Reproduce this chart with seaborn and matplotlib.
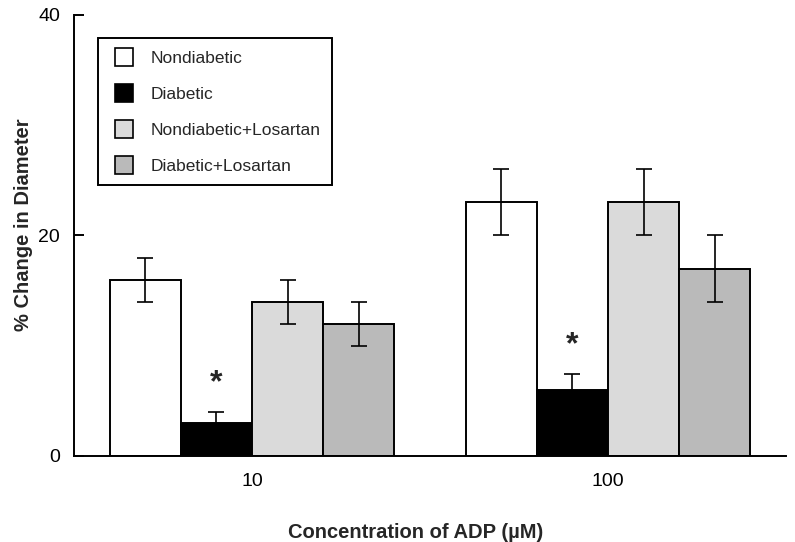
"""
bar chart: % change in diameter vs ADP concentration
"""

import pandas as pd
import seaborn as sns
import matplotlib.pyplot as plt
from matplotlib.patches import Patch, Rectangle
from matplotlib.legend_handler import HandlerPatch

# data
concentrations = ['10', '100']
groups = ['Nondiabetic', 'Diabetic', 'Nondiabetic+Losartan', 'Diabetic+Losartan']
nondiabetic = [16, 23]
diabetic = [3, 6]
nondiabetic_los = [14, 23]
diabetic_los = [12, 17]
nondiabetic_sem = [2, 3]
diabetic_sem = [1, 1.4]
nondiabetic_los_sem = [2, 3]
diabetic_los_sem = [2, 3]
significant = ['Diabetic']

colors = ['#ffffff', '#000000', '#dadada', '#bababa']

means = [nondiabetic, diabetic, nondiabetic_los, diabetic_los]
sems = [nondiabetic_sem, diabetic_sem, nondiabetic_los_sem, diabetic_los_sem]

# long format table for seaborn
rows = []
for g, m in zip(groups, means):
    for c, v in zip(concentrations, m):
        rows.append({'conc': c, 'group': g, 'value': v})
df = pd.DataFrame(rows)

sns.set_theme(style='ticks')
plt.rcParams['font.family'] = ['Liberation Sans', 'DejaVu Sans']

fig = plt.figure(figsize=(7.95, 5.42), dpi=100)
ax = fig.add_axes([0.0931, 0.1587, 0.8956, 0.8137])

sns.barplot(data=df, x='conc', y='value', hue='group', order=concentrations,
            hue_order=groups, palette=colors, edgecolor='black', linewidth=1.4,
            errorbar=None, width=0.8, saturation=1, legend=False, ax=ax)

# error bars and asterisks on top of the bars
for cont, g, m, s in zip(ax.containers, groups, means, sems):
    xs = [b.get_x() + b.get_width() / 2 for b in cont]
    ax.errorbar(xs, m, yerr=s, fmt='none', ecolor='black', elinewidth=1.2,
                capsize=5.5, capthick=1.2, zorder=3)
    if g in significant:
        for x, v, e in zip(xs, m, s):
            ax.annotate('*', xy=(x, v + e), xytext=(0, 10), textcoords='offset points',
                        ha='center', va='bottom', fontsize=23, fontweight='bold')

ax.set_xlim(-0.5, 1.5)
ax.set_ylim(0, 40)
ax.set_yticks([0, 20, 40])

sns.despine(ax=ax)
for sp in ['left', 'bottom']:
    ax.spines[sp].set_linewidth(1.4)
    ax.spines[sp].set_color('black')

ax.tick_params(axis='y', direction='in', length=7, width=1.4, pad=10, labelsize=14,
               colors='black')
ax.tick_params(axis='x', length=0, pad=12, labelsize=14, colors='black')

ax.set_xlabel('Concentration of ADP (\u00b5M)', fontsize=14.5, fontweight='bold')
ax.set_ylabel('% Change in Diameter', fontsize=14.5, fontweight='bold')
ax.xaxis.set_label_coords(0.48, -0.152)
ax.yaxis.set_label_coords(-0.057, 0.524)


# square legend keys pushed to the right of the handle box
def square_key(legend, orig_handle, xdescent, ydescent, width, height, fontsize):
    side = 18 * 72 / fig.dpi
    return Rectangle((width - side - xdescent, -ydescent + (height - side) / 2), side, side)


handles = [Patch(facecolor=c, edgecolor='black', linewidth=1.2) for c in colors]
leg = ax.legend(handles, groups, loc='upper left', bbox_to_anchor=(0.0333, 0.9485),
                borderaxespad=0, fontsize=12.5, frameon=True, fancybox=False,
                framealpha=1, edgecolor='black', handlelength=1.4, handleheight=1.03,
                handletextpad=0.98, labelspacing=1.1, borderpad=0.65,
                handler_map={Patch: HandlerPatch(patch_func=square_key)})
leg.get_frame().set_linewidth(1.4)

fig.savefig('out.png', dpi=100)
